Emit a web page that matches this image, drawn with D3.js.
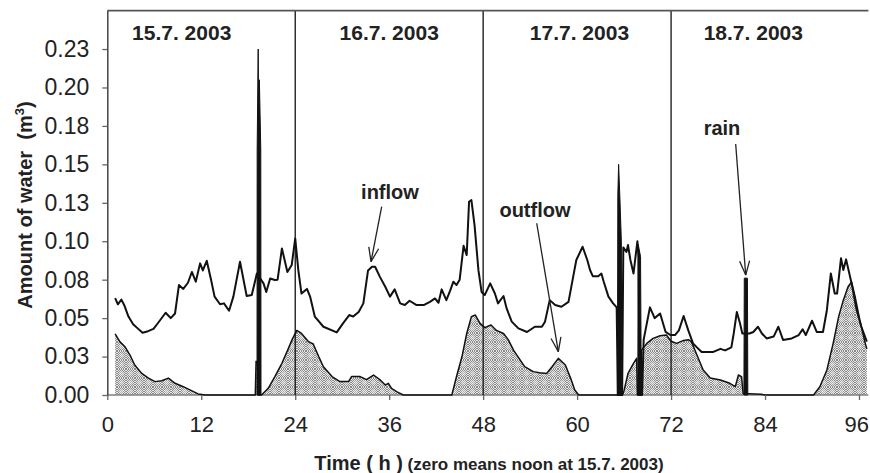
<!DOCTYPE html>
<html>
<head>
<meta charset="utf-8">
<script src="https://cdn.jsdelivr.net/npm/d3@7"></script>
<style>
  html, body { margin: 0; padding: 0; background: #fff; }
  svg { display: block; }
</style>
</head>
<body>
<svg id="chart" width="870" height="473"></svg>
<script>
// Hours since noon of 15.7.2003 and water amounts (m³)
const inflowTime = [1.0, 1.35, 1.8, 2.2, 2.7, 3.3, 3.95, 4.5, 5.2, 5.9, 6.5, 7.45, 8.1, 8.65, 9.15, 9.7, 10.3, 10.8,
  11.3, 11.85, 12.2, 12.7, 13.25, 13.7, 14.4, 14.9, 15.55, 16.1, 16.95, 17.8, 18.45, 19.1, 19.95, 20.3, 20.8, 21.4,
  21.75, 22.3, 23.0, 23.55, 24.0, 24.4, 24.8, 25.5, 25.9, 26.5, 27.6, 29.3, 30.1, 30.9, 31.4, 32.1, 32.7, 33.3, 33.8,
  34.2, 34.8, 35.5, 36.1, 36.7, 37.4, 38.0, 38.6, 39.5, 40.4, 41.2, 41.85, 42.3, 42.7, 43.3, 43.8, 44.2, 44.6, 45.0,
  45.5, 45.9, 46.2, 46.5, 46.9, 47.4, 47.8, 48.2, 48.9, 49.5, 49.9, 50.6, 51.0, 51.65, 52.5, 53.6, 54.6, 55.5, 55.9,
  56.5, 57.2, 58.0, 58.9, 59.5, 59.9, 60.7, 61.3, 61.65, 62.0, 62.7, 63.1, 63.4, 64.0, 64.6, 65.05, 65.2, 65.75, 65.9,
  66.3, 66.5, 66.8, 67.2, 67.7, 67.85, 67.95, 68.3, 68.5, 69.3, 69.9, 70.6, 71.3, 71.9, 72.5, 73.0, 73.6, 74.2, 74.8,
  75.3, 75.9, 77.4, 78.3, 78.9, 79.7, 80.0, 80.4, 80.8, 81.1, 82.0, 82.5, 83.1, 83.6, 84.2, 85.1, 85.7, 86.3, 87.4,
  88.3, 88.8, 89.2, 90.0, 90.6, 91.4, 91.9, 92.4, 92.9, 93.2, 93.7, 94.0, 94.35, 95.1, 95.7, 96.3, 97.0];
const inflowValue = [0.063, 0.059, 0.062, 0.058, 0.051, 0.046, 0.043, 0.0405, 0.0415, 0.043, 0.047, 0.0535, 0.050,
  0.053, 0.0715, 0.069, 0.073, 0.080, 0.0737, 0.0856, 0.081, 0.0873, 0.075, 0.064, 0.059, 0.0596, 0.0548, 0.064,
  0.0867, 0.0644, 0.065, 0.079, 0.0726, 0.067, 0.0758, 0.0748, 0.075, 0.0953, 0.080, 0.0845, 0.1018, 0.081, 0.066,
  0.069, 0.064, 0.051, 0.0444, 0.0407, 0.0466, 0.052, 0.051, 0.054, 0.0596, 0.081, 0.0834, 0.0834, 0.077, 0.0704,
  0.064, 0.0687, 0.0596, 0.0585, 0.0613, 0.0585, 0.0585, 0.0606, 0.0628, 0.060, 0.0687, 0.0617, 0.068, 0.0737,
  0.0715, 0.075, 0.097, 0.091, 0.1257, 0.1268, 0.1105, 0.081, 0.067, 0.065, 0.0726, 0.066, 0.0596, 0.0644, 0.0563,
  0.0477, 0.0433, 0.041, 0.0444, 0.0444, 0.0477, 0.0617, 0.0585, 0.0574, 0.0606, 0.077, 0.0878, 0.0964, 0.0878,
  0.0813, 0.0773, 0.0773, 0.079, 0.0737, 0.064, 0.0596, 0.057, 0.0, 0.0, 0.096, 0.093, 0.0975, 0.088, 0.079, 0.100,
  0.090, 0.0, 0.0, 0.036, 0.057, 0.050, 0.053, 0.041, 0.039, 0.039, 0.042, 0.0514, 0.042, 0.0336, 0.031, 0.028, 0.028,
  0.030, 0.029, 0.031, 0.040, 0.054, 0.0466, 0.040, 0.040, 0.041, 0.0444, 0.040, 0.0368, 0.038, 0.0444, 0.0358,
  0.0368, 0.039, 0.0427, 0.039, 0.0483, 0.041, 0.041, 0.0553, 0.079, 0.066, 0.066, 0.0889, 0.0813, 0.0882, 0.0715,
  0.0553, 0.0444, 0.0347];

const outflowTime = [1.0, 1.6, 2.25, 2.9, 3.5, 4.4, 5.25, 6.1, 6.95, 7.8, 8.65, 9.7, 10.55, 11.6, 12.5, 18.9, 19.0,
  19.2, 19.3, 19.7, 20.55, 21.4, 22.3, 23.1, 23.6, 24.2, 24.8, 25.7, 26.3, 27.0, 27.6, 28.7, 29.7, 30.8, 31.2, 32.3,
  33.1, 34.0, 34.8, 35.5, 35.9, 36.3, 37.0, 37.8, 44.0, 44.6, 45.3, 45.9, 46.5, 47.0, 47.6, 48.2, 49.0, 49.7, 50.6,
  51.2, 51.9, 52.5, 53.3, 54.4, 55.2, 56.1, 56.8, 57.6, 58.5, 59.2, 59.7, 60.2, 65.8, 66.0, 66.5, 67.2, 67.6, 67.7,
  68.15, 68.2, 68.9, 69.7, 70.6, 71.4, 72.0, 72.7, 73.6, 74.2, 74.6, 75.3, 76.1, 77.0, 78.3, 79.5, 80.2, 80.6, 81.0,
  81.2, 83.5, 84.0, 90.2, 91.0, 91.9, 92.7, 93.4, 94.0, 94.6, 95.05, 95.5, 96.1, 96.8, 97.0];
const outflowValue = [0.0397, 0.0347, 0.0314, 0.026, 0.0195, 0.014, 0.011, 0.0087, 0.0093, 0.011, 0.0076, 0.0054,
  0.0033, 0.0007, 0, 0, 0.022, 0.02, 0, 0, 0.0043, 0.012, 0.0206, 0.030, 0.036, 0.042, 0.040, 0.0347, 0.0332, 0.025,
  0.0184, 0.012, 0.0087, 0.0087, 0.012, 0.012, 0.010, 0.013, 0.010, 0.0065, 0.0076, 0.0043, 0.002, 0, 0, 0.012, 0.025,
  0.040, 0.051, 0.052, 0.0466, 0.0438, 0.0455, 0.042, 0.040, 0.036, 0.029, 0.0245, 0.0184, 0.0152, 0.0145, 0.014,
  0.0184, 0.0238, 0.0195, 0.0105, 0.0033, 0, 0, 0.003, 0.014, 0.0206, 0.0238, 0, 0, 0.029, 0.0336, 0.0368, 0.0385,
  0.039, 0.035, 0.0336, 0.0355, 0.036, 0.0347, 0.026, 0.0163, 0.011, 0.0098, 0.0076, 0.0054, 0.013, 0.012, 0.001,
  0.0005, 0, 0, 0.0054, 0.0163, 0.0336, 0.051, 0.0617, 0.0704, 0.0735, 0.064, 0.0488, 0.0336, 0.030];

// Rain showers; null separates one shower from the next
const rainTime = [19.12, 19.14, 19.27, 19.33, 19.42, 19.6, 19.63, null,
  65.15, 65.2, 65.3, 65.45, 65.65, 65.7, null,
  67.75, 67.8, 68.1, 68.2, null,
  81.3, 81.35, 81.75, 81.8];
const rainValue = [0, 0.16, 0.225, 0.17, 0.205, 0.16, 0, null,
  0, 0.13, 0.15, 0.13, 0.1, 0, null,
  0, 0.098, 0.09, 0, null,
  0, 0.076, 0.076, 0];

const xTicks = [0, 12, 24, 36, 48, 60, 72, 84, 96];
const yTicks = [0, 0.025, 0.05, 0.075, 0.1, 0.125, 0.15, 0.175, 0.2, 0.225];
const yTickLabels = ["0.00", "0.03", "0.05", "0.08", "0.10", "0.13", "0.15", "0.18", "0.20", "0.23"];

const dayBreaks = [24, 48, 72];
const dayLabels = ["15.7. 2003", "16.7. 2003", "17.7. 2003", "18.7. 2003"];
const dayLabelTime = [9.5, 36, 60.3, 82.5];

const noteText = ["inflow", "outflow", "rain"];
const noteAt = [[36.1, 0.1275], [54.62, 0.1158], [78.5, 0.1691]];
const noteFrom = [[35.04, 0.1225], [54.84, 0.1117], [80.25, 0.1632]];
const noteTo = [[33.68, 0.0867], [57.6, 0.0282], [81.53, 0.078]];

// ---------------------------------------------------------------
const W = 870, H = 473;
const plot = { left: 107.3, right: 868.4, top: 10.6, bottom: 395 };
const FONT = "'Liberation Sans', Arial, Helvetica, sans-serif";
const INK = "#222";

const svg = d3.select("#chart");
svg.append("rect").attr("width", W).attr("height", H).attr("fill", "#fff");

const x = d3.scaleLinear().domain([0, 97.2]).range([plot.left, plot.right]);
const y = d3.scaleLinear().domain([0, 0.25]).range([plot.bottom, plot.top]);

// Fine grey checker with soft light dots for the outflow fill
const defs = svg.append("defs");
const chk = defs.append("pattern").attr("id", "checker")
  .attr("width", 2).attr("height", 2).attr("patternUnits", "userSpaceOnUse");
chk.append("rect").attr("width", 2).attr("height", 2).attr("fill", "#e6e6e6");
chk.append("rect").attr("x", 0).attr("y", 0).attr("width", 1).attr("height", 1).attr("fill", "#8a8a8a");
chk.append("rect").attr("x", 1).attr("y", 1).attr("width", 1).attr("height", 1).attr("fill", "#8a8a8a");
const dots = defs.append("pattern").attr("id", "outflowFill")
  .attr("width", 9).attr("height", 9).attr("patternUnits", "userSpaceOnUse");
dots.append("rect").attr("width", 9).attr("height", 9).attr("fill", "url(#checker)");
dots.append("circle").attr("cx", 4.5).attr("cy", 4.5).attr("r", 2.2)
  .attr("fill", "#f0f0f0").attr("opacity", 0.4);

const zip = (ts, vs) => ts.map((t, i) => ({ t, v: vs[i] }));
const inflow = zip(inflowTime, inflowValue);
const outflow = zip(outflowTime, outflowValue);
const rain = zip(rainTime, rainValue);

// Outflow: hatched area with a black outline
svg.append("path")
  .datum(outflow)
  .attr("fill", "url(#outflowFill)")
  .attr("d", d3.area().x(d => x(d.t)).y0(y(0)).y1(d => y(d.v)));

// x-axis baseline
svg.append("line")
  .attr("x1", plot.left).attr("x2", plot.right)
  .attr("y1", y(0)).attr("y2", y(0))
  .attr("stroke", "#808080").attr("stroke-width", 1.5);

svg.append("path")
  .datum(outflow)
  .attr("fill", "none").attr("stroke", "#111").attr("stroke-width", 1.5)
  .attr("stroke-linejoin", "round")
  .attr("d", d3.line().x(d => x(d.t)).y(d => y(d.v)));

// Inflow line
svg.append("path")
  .datum(inflow)
  .attr("fill", "none").attr("stroke", "#111").attr("stroke-width", 2)
  .attr("stroke-linejoin", "round")
  .attr("d", d3.line().x(d => x(d.t)).y(d => y(d.v)));

// Rain showers as solid spikes
svg.append("path")
  .datum(rain)
  .attr("fill", "#111").attr("stroke", "#111").attr("stroke-width", 1)
  .attr("stroke-linejoin", "round")
  .attr("d", d3.area().defined(d => d.t !== null).x(d => x(d.t)).y0(y(0)).y1(d => y(d.v)));

// Day separators
svg.append("g").selectAll("line").data(dayBreaks).join("line")
  .attr("x1", d => x(d)).attr("x2", d => x(d))
  .attr("y1", plot.top).attr("y2", plot.bottom)
  .attr("stroke", "#111").attr("stroke-width", 1.3);

// Top frame
svg.append("line")
  .attr("x1", plot.left).attr("x2", plot.right)
  .attr("y1", plot.top).attr("y2", plot.top)
  .attr("stroke", "#555").attr("stroke-width", 1.6);

// Axes
const yAxis = svg.append("g")
  .attr("transform", `translate(${plot.left},0)`)
  .call(d3.axisLeft(y).tickValues(yTicks).tickFormat((d, i) => yTickLabels[i])
    .tickSize(5).tickSizeOuter(0).tickPadding(13));
yAxis.select(".domain").attr("stroke", "#444").attr("stroke-width", 1.5);
yAxis.selectAll(".tick line").attr("stroke", "#666").attr("stroke-width", 1.3);
yAxis.selectAll("text").attr("font-family", FONT).attr("font-size", 23).attr("fill", INK);

const xAxis = svg.append("g")
  .attr("transform", `translate(0,${plot.bottom})`)
  .call(d3.axisBottom(x).tickValues(xTicks).tickSize(5).tickSizeOuter(0).tickPadding(16));
xAxis.select(".domain").remove();
xAxis.selectAll(".tick line").attr("stroke", "#666").attr("stroke-width", 1.3);
xAxis.selectAll("text").attr("font-family", FONT).attr("font-size", 22).attr("fill", INK);
// keep the last label inside the canvas
xAxis.selectAll(".tick text").filter(d => d === xTicks[xTicks.length - 1])
  .attr("text-anchor", "end").attr("dx", 9.5);

// Day captions
svg.append("g").selectAll("text").data(dayLabels).join("text")
  .attr("x", (d, i) => x(dayLabelTime[i]))
  .attr("y", plot.top + 29.4)
  .attr("text-anchor", "middle")
  .attr("font-family", FONT).attr("font-size", 21).attr("font-weight", "bold").attr("fill", INK)
  .text(d => d);

// Annotations with open arrowheads
const notes = svg.append("g");
noteText.forEach((txt, i) => {
  notes.append("text")
    .attr("x", x(noteAt[i][0])).attr("y", y(noteAt[i][1]))
    .attr("text-anchor", "middle")
    .attr("font-family", FONT).attr("font-size", 20).attr("font-weight", "bold").attr("fill", INK)
    .text(txt);
  const x1 = x(noteFrom[i][0]), y1 = y(noteFrom[i][1]);
  const x2 = x(noteTo[i][0]), y2 = y(noteTo[i][1]);
  notes.append("line").attr("x1", x1).attr("y1", y1).attr("x2", x2).attr("y2", y2)
    .attr("stroke", INK).attr("stroke-width", 1.3);
  const ang = Math.atan2(y1 - y2, x1 - x2);
  const len = 15, spread = 0.34;
  [ang - spread, ang + spread].forEach(a => {
    notes.append("line")
      .attr("x1", x2).attr("y1", y2)
      .attr("x2", x2 + len * Math.cos(a)).attr("y2", y2 + len * Math.sin(a))
      .attr("stroke", INK).attr("stroke-width", 1.3);
  });
});

// Axis titles
const yTitle = svg.append("text")
  .attr("transform", "translate(32,205) rotate(-90)")
  .attr("text-anchor", "middle")
  .attr("font-family", FONT).attr("font-size", 20).attr("font-weight", "bold").attr("fill", INK);
yTitle.append("tspan").text("Amount of water\u00a0\u00a0(m");
yTitle.append("tspan").attr("font-size", 13).attr("dy", -8).text("3");
yTitle.append("tspan").attr("dy", 8).text(")");

const xTitle = svg.append("text")
  .attr("x", 489).attr("y", 470)
  .attr("text-anchor", "middle")
  .attr("font-family", FONT).attr("font-weight", "bold").attr("fill", INK);
xTitle.append("tspan").attr("font-size", 20).text("Time\u00a0( h )");
xTitle.append("tspan").attr("font-size", 17).text("\u00a0(zero means noon at 15.7. 2003)");
</script>
</body>
</html>
